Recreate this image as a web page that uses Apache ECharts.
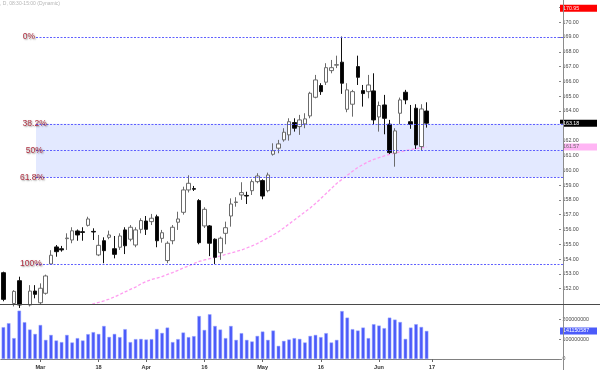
<!DOCTYPE html>
<html>
<head>
<meta charset="utf-8">
<script src="https://cdn.jsdelivr.net/npm/echarts@6/dist/echarts.min.js"></script>
<style>html,body{margin:0;padding:0;background:#fff;}#c{width:600px;height:370px;}</style>
</head>
<body>
<div id="c"></div>
<script>
// ---- data ----
const dates = [
'2024-02-21','2024-02-22','2024-02-23','2024-02-26','2024-02-27','2024-02-28','2024-02-29','2024-03-01','2024-03-04','2024-03-05',
'2024-03-06','2024-03-07','2024-03-08','2024-03-11','2024-03-12','2024-03-13','2024-03-14','2024-03-15','2024-03-18','2024-03-19',
'2024-03-20','2024-03-21','2024-03-22','2024-03-25','2024-03-26','2024-03-27','2024-03-28','2024-04-01','2024-04-02','2024-04-03',
'2024-04-04','2024-04-05','2024-04-08','2024-04-09','2024-04-10','2024-04-11','2024-04-12','2024-04-15','2024-04-16','2024-04-17',
'2024-04-18','2024-04-19','2024-04-22','2024-04-23','2024-04-24','2024-04-25','2024-04-26','2024-04-29','2024-04-30','2024-05-01',
'2024-05-02','2024-05-03','2024-05-06','2024-05-07','2024-05-08','2024-05-09','2024-05-10','2024-05-13','2024-05-14','2024-05-15',
'2024-05-16','2024-05-17','2024-05-20','2024-05-21','2024-05-22','2024-05-23','2024-05-24','2024-05-28','2024-05-29','2024-05-30',
'2024-05-31','2024-06-03','2024-06-04','2024-06-05','2024-06-06','2024-06-07','2024-06-10','2024-06-11','2024-06-12','2024-06-13',
'2024-06-14'];
const futureDates = [
'2024-06-17','2024-06-18','2024-06-20','2024-06-21','2024-06-24','2024-06-25','2024-06-26','2024-06-27','2024-06-28',
'2024-07-01','2024-07-02','2024-07-03','2024-07-05','2024-07-08','2024-07-09','2024-07-10','2024-07-11','2024-07-12',
'2024-07-15','2024-07-16','2024-07-17','2024-07-18','2024-07-19','2024-07-22','2024-07-23'];

const opens = [
153.08,150.8,151.0,152.54,150.7,150.9,151.84,151.05,151.69,153.67,
154.82,154.7,155.38,155.29,155.9,155.85,156.28,155.87,154.28,155.24,
155.47,154.7,154.8,155.97,155.34,154.95,156.01,156.57,156.53,156.86,
155.4,153.9,155.24,156.49,157.16,158.67,158.76,157.95,156.24,156.24,
155.34,154.43,155.74,156.91,157.82,158.33,158.3,158.62,159.23,159.3,
158.62,161.08,161.49,162.05,162.39,163.22,162.95,163.13,163.67,164.93,
165.72,165.95,166.73,167.1,167.3,164.12,164.46,167.0,165.38,165.31,
165.36,163.6,164.41,163.11,161.15,163.85,165.27,163.28,164.19,161.6,
164.0];
const closes = [
151.28,150.5,151.82,150.9,150.6,151.84,151.62,152.03,152.86,154.26,
154.5,154.62,155.42,155.91,155.63,155.8,156.71,155.83,154.93,154.57,
155.63,154.32,155.56,154.9,156.15,155.97,156.6,156.01,156.76,155.24,
155.78,155.07,156.15,156.71,158.67,159.12,158.72,155.11,157.36,155.07,
154.12,155.41,156.12,157.72,157.86,158.49,158.26,159.23,159.61,158.26,
159.68,161.32,161.78,162.57,163.28,162.84,163.4,163.47,165.2,166.1,
165.31,166.93,166.93,167.13,165.88,165.43,165.31,166.28,165.18,165.76,
163.4,164.37,163.51,161.19,162.66,164.75,164.75,163.11,161.71,164.14,
163.18];
const lows = [
151.15,150.1,150.8,150.7,150.2,150.8,151.35,150.9,151.6,153.6,
154.16,154.5,154.62,155.07,155.24,155.24,156.2,155.29,154.2,153.72,
155.34,154.05,154.62,154.34,155.2,154.8,155.74,155.63,156.3,154.8,
155.11,153.72,155.0,155.97,157.0,158.5,158.6,155.0,156.1,154.2,
153.67,153.95,155.0,156.19,157.54,158.0,157.72,158.33,159.12,158.04,
158.51,160.99,161.15,161.93,162.0,162.61,162.39,162.84,163.51,164.86,
165.09,165.76,166.55,166.9,165.16,163.92,163.62,165.76,164.3,164.86,
163.06,162.61,162.43,161.1,160.24,163.11,164.46,162.8,161.44,161.3,
162.88];
const highs = [
153.15,150.95,151.9,152.81,150.9,152.24,152.24,152.36,152.95,154.6,
154.95,154.89,155.74,156.15,156.0,156.15,156.86,156.08,155.63,155.47,
155.92,155.56,155.74,156.15,156.3,156.15,156.76,156.91,157.05,157.0,
155.97,155.2,156.3,157.2,158.89,159.66,158.94,158.05,157.5,156.3,
155.4,155.52,156.53,158.1,158.18,159.19,158.55,159.39,159.8,159.39,
159.84,161.82,162.05,162.84,163.51,163.51,163.74,163.85,165.3,166.44,
165.88,167.23,167.45,167.74,169.03,165.88,165.43,167.74,165.76,166.44,
166.55,164.64,165.09,163.4,162.84,164.91,165.43,164.41,164.46,164.46,
164.59];
// volume in millions of shares
const volumesM = [
160,180,105,243,185,148,126,171,96,121,
93,85,121,83,105,93,125,135,126,166,
111,126,110,150,85,100,101,98,100,151,
131,158,85,100,133,110,115,216,146,225,
166,148,105,166,96,130,96,88,116,138,
96,143,66,91,98,105,101,83,116,121,
110,130,83,96,241,208,150,143,158,105,
175,168,155,208,198,186,101,158,175,161,
141.150587];
// moving average (pink dashed), null where not shown
const movingAvg = [
null,null,null,null,null,null,null,null,null,null,
null,null,null,null,null,150.7,150.85,150.97,151.07,151.18,
151.30,151.45,151.61,151.78,151.95,152.11,152.32,152.49,152.62,152.72,
152.82,152.96,153.09,153.24,153.40,153.53,153.70,153.84,153.94,154.03,
154.12,154.21,154.31,154.41,154.51,154.61,154.75,154.89,155.05,155.24,
155.43,155.63,155.85,156.10,156.37,156.64,156.91,157.18,157.45,157.76,
158.09,158.43,158.77,159.11,159.38,159.65,159.93,160.19,160.39,160.58,
160.73,160.85,160.97,161.07,161.17,161.24,161.32,161.40,161.45,161.51,
161.57];

const tickDates = ['2024-03-01','2024-03-18','2024-04-01','2024-04-16','2024-05-01','2024-05-16','2024-06-03','2024-06-17'];
const tickTexts = ['Mar','18','Apr','16','May','16','Jun','17'];

const fibLevels = [169.0, 163.14, 161.34, 159.53, 153.67];
const fibNames = ['0%', '38.2%', '50%', '61.8%', '100%'];

const refHigh = 170.95;
const lastPrice = 163.18;
const maLast = 161.57;
const lastVolume = 141150587;
const titleText = ', D, 08:30-15:00 (Dynamic)';

// ---- build chart ----
const FONT = 'Liberation Sans, Arial, sans-serif';
const categories = dates.concat(futureDates);
const candleData = dates.map((d, i) => [opens[i], closes[i], lows[i], highs[i]]);
const volumeData = volumesM.map(v => Math.round(v * 1e6));
const tickMap = {};
tickDates.forEach((d, i) => { tickMap[d] = tickTexts[i]; });
const showTick = (i, v) => tickMap[v] !== undefined;

const fibLabelDistance = [1, -10.7, -6.7, -8, -5.7];
const fibLineStart = 36, fibLineEnd = 563;

const fibLines = fibLevels.map((v, k) => [
  { x: fibLineStart, yAxis: v, label: { formatter: fibNames[k], distance: fibLabelDistance[k] } },
  { x: fibLineEnd, yAxis: v }
]);

const chart = echarts.init(document.getElementById('c'), null, { renderer: 'canvas' });
chart.setOption({
  animation: false,
  backgroundColor: '#ffffff',
  title: {
    text: titleText, left: 0, top: 1, padding: 0,
    textStyle: { fontSize: 5, color: '#b5b5b5', fontWeight: 'normal', fontFamily: FONT }
  },
  grid: [
    { left: 0.74, right: 34.5, top: 0, bottom: 66.5 },
    { left: 0.74, right: 34.5, top: 304.5, bottom: 10.7 }
  ],
  xAxis: [
    { type: 'category', gridIndex: 0, data: categories, boundaryGap: true, show: false },
    {
      type: 'category', gridIndex: 1, data: categories, boundaryGap: true,
      axisLine: { show: true, lineStyle: { color: '#808080', width: 1 } },
      axisTick: { show: true, alignWithLabel: true, length: 3, interval: showTick, lineStyle: { color: '#666' } },
      axisLabel: {
        interval: showTick, formatter: v => tickMap[v] || '',
        fontSize: 5.6, fontWeight: 'bold', color: '#333', margin: 5, fontFamily: FONT
      },
      splitLine: { show: false }
    }
  ],
  yAxis: [
    {
      type: 'value', gridIndex: 0, position: 'right', offset: -2.5,
      min: 151, max: 171.5, interval: 1,
      axisLine: { show: false },
      axisTick: { show: true, length: 2, lineStyle: { color: '#888' } },
      splitLine: { show: false },
      axisLabel: {
        showMinLabel: false, showMaxLabel: false, margin: 3.5,
        fontSize: 5.3, color: '#4a4a4a', fontFamily: FONT,
        formatter: v => (Math.abs(v - lastPrice) < 0.3 || Math.abs(v - refHigh) < 0.3) ? '' : v.toFixed(2)
      }
    },
    {
      type: 'value', gridIndex: 1, position: 'right', offset: -2.5,
      min: 0, max: 274e6, interval: 1e8,
      axisLine: { show: false },
      axisTick: { show: true, length: 2, lineStyle: { color: '#888' } },
      splitLine: { show: false },
      axisLabel: {
        showMaxLabel: false, margin: 3.5,
        fontSize: 5.3, color: '#4a4a4a', fontFamily: FONT,
        formatter: v => String(Math.round(v))
      }
    },
    {
      type: 'value', gridIndex: 0, position: 'right', offset: -2.5,
      min: 151, max: 171.5,
      axisLine: { show: false }, axisTick: { show: false }, splitLine: { show: false },
      axisLabel: {
        customValues: [refHigh, lastPrice, maLast], margin: 1, fontFamily: FONT,
        formatter: v => {
          const key = Math.abs(v - refHigh) < 1e-6 ? 'r' : (Math.abs(v - lastPrice) < 1e-6 ? 'k' : 'p');
          return '{' + key + '|' + v.toFixed(2) + '}';
        },
        rich: {
          r: { backgroundColor: '#ff0000', color: '#ffe6e6', fontSize: 5.3, width: 34, height: 7, lineHeight: 7, padding: [0, 0, 0, 3], fontFamily: FONT },
          k: { backgroundColor: '#000000', color: '#ffffff', fontSize: 5.3, width: 34, height: 7, lineHeight: 7, padding: [0, 0, 0, 3], fontFamily: FONT },
          p: { backgroundColor: '#ffb5f4', color: '#6a6a6a', fontSize: 5.3, width: 34, height: 7, lineHeight: 7, padding: [0, 0, 0, 3], fontFamily: FONT }
        }
      }
    },
    {
      type: 'value', gridIndex: 1, position: 'right', offset: -2.5,
      min: 0, max: 274e6,
      axisLine: { show: false }, axisTick: { show: false }, splitLine: { show: false },
      axisLabel: {
        customValues: [lastVolume], margin: 1, fontFamily: FONT,
        formatter: v => '{b|' + String(Math.round(v)) + '}',
        rich: {
          b: { backgroundColor: '#4b5bfa', color: '#ffffff', fontSize: 5.3, width: 34, height: 7, lineHeight: 7, padding: [0, 0, 0, 3], fontFamily: FONT }
        }
      }
    }
  ],
  series: [
    {
      type: 'candlestick', name: 'price', xAxisIndex: 0, yAxisIndex: 0,
      data: candleData, barWidth: 4, clip: true, z: 3,
      itemStyle: { color: '#ffffff', color0: '#000000', borderColor: '#6b6b6b', borderColor0: '#111111', borderWidth: 1 },
      markArea: {
        silent: true,
        itemStyle: { color: '#e3e9ff', opacity: 1 },
        data: [[{ x: fibLineStart, yAxis: fibLevels[1] }, { x: fibLineEnd, yAxis: fibLevels[3] }]]
      },
      markLine: {
        silent: true, symbol: ['none', 'none'], animation: false,
        lineStyle: { color: '#4f4fff', width: 1, type: [2, 1.5], opacity: 0.9 },
        label: {
          show: true, position: 'start', fontSize: 8.5, color: '#a8192e', fontFamily: FONT,
          textShadowColor: 'rgba(0,0,0,0.45)', textShadowBlur: 1.5, textShadowOffsetX: 1, textShadowOffsetY: 1
        },
        emphasis: { disabled: true },
        data: fibLines
      }
    },
    {
      type: 'line', name: 'MA', xAxisIndex: 0, yAxisIndex: 0,
      data: movingAvg, symbol: 'none', clip: true, z: 2,
      lineStyle: { color: '#ff9cf0', width: 1.3, type: [3, 2] }
    },
    {
      type: 'bar', name: 'volume', xAxisIndex: 1, yAxisIndex: 1,
      data: volumeData, barWidth: 3.5,
      itemStyle: { color: '#4b5bfa', borderColor: '#9aa6ff', borderWidth: 0.5 }
    }
  ],
  graphic: [
    { type: 'line', shape: { x1: 563.5, y1: 0, x2: 563.5, y2: 370 }, style: { stroke: '#8c8c8c', lineWidth: 1 }, z: 20 },
    { type: 'line', shape: { x1: 0, y1: 304.5, x2: 600, y2: 304.5 }, style: { stroke: '#4a4a4a', lineWidth: 1 }, z: 20 }
  ]
});
</script>
</body>
</html>
